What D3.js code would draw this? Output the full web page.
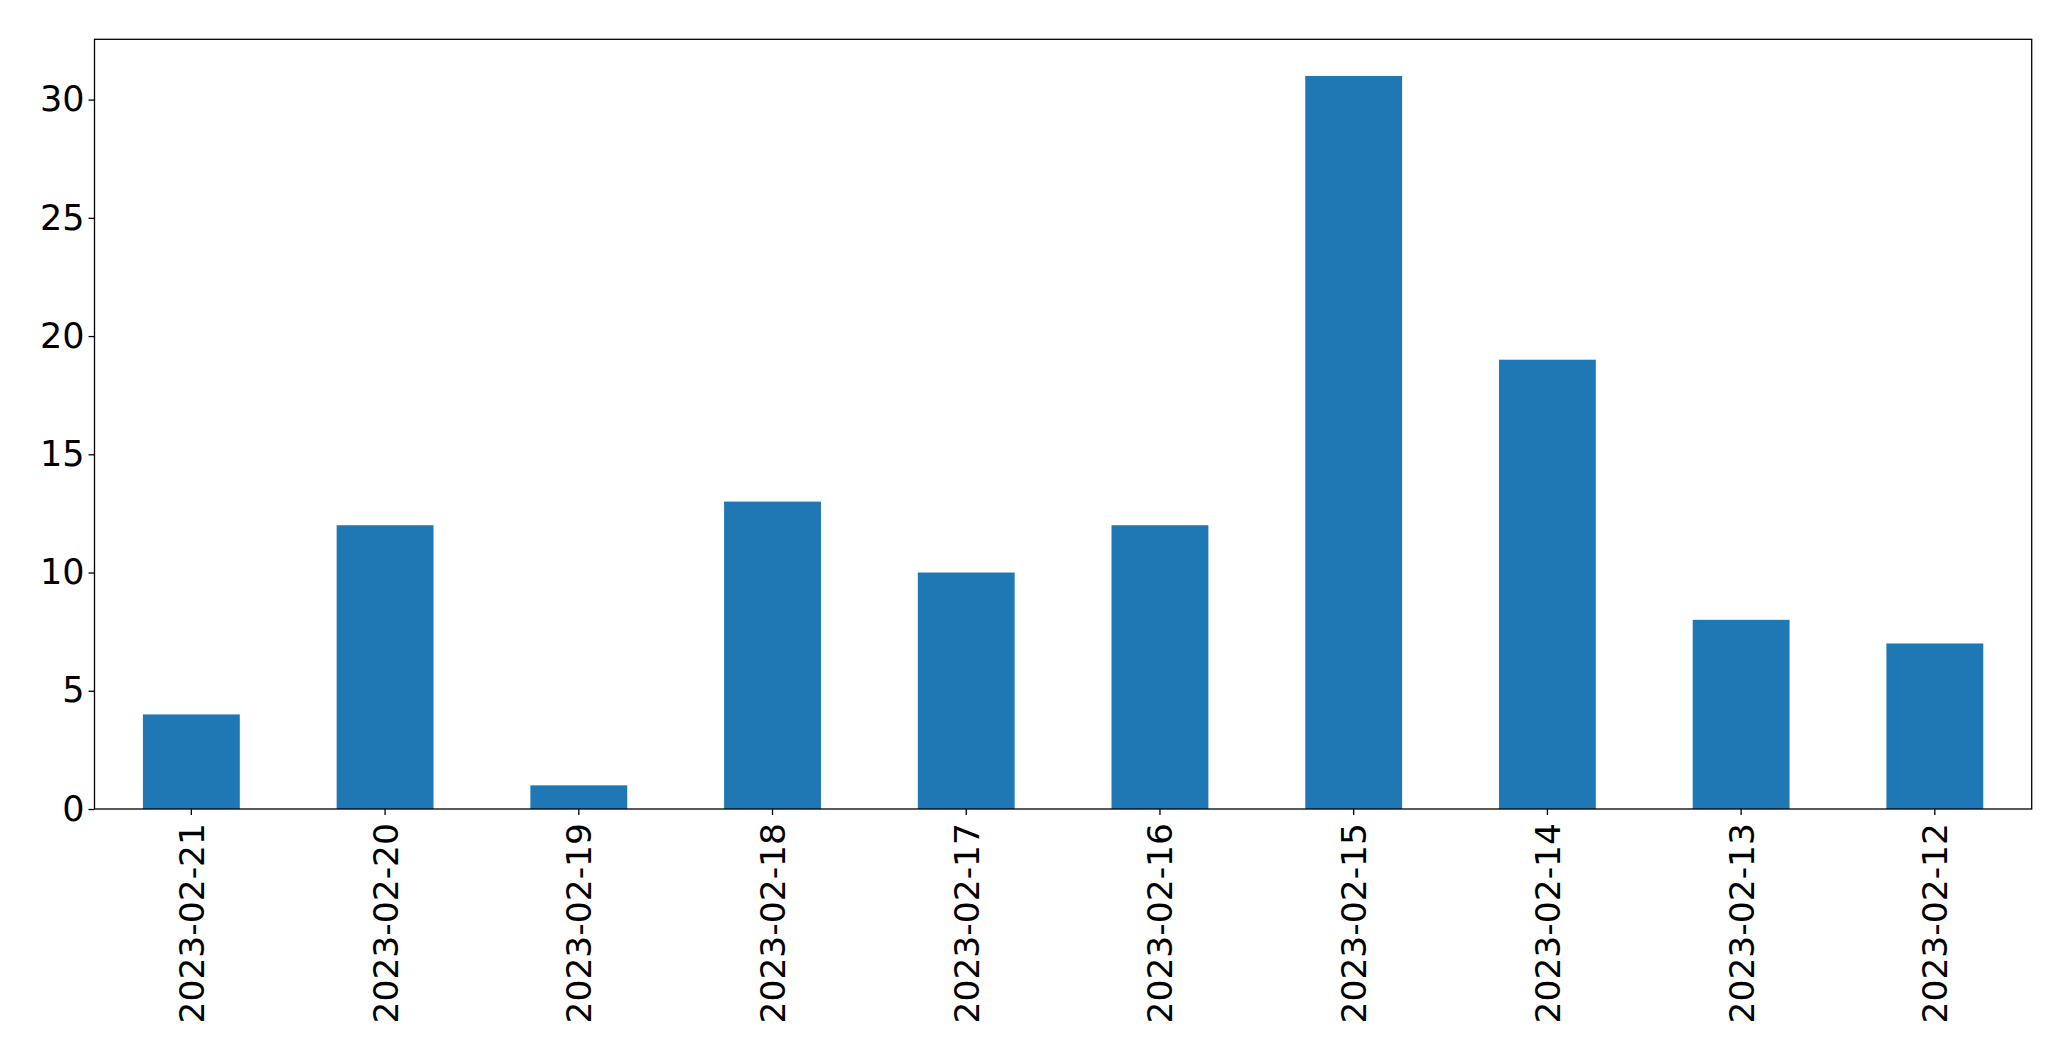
<!DOCTYPE html>
<html>
<head>
<meta charset="utf-8">
<script src="https://cdn.jsdelivr.net/npm/d3@7"></script>
<style>
  html, body { margin: 0; padding: 0; background: #ffffff; }
  svg { display: block; }
  text { font-family: "DejaVu Sans", sans-serif; fill: #000; }
</style>
</head>
<body>
<svg id="chart" width="2071" height="1061"></svg>
<script>
const categories = ["2023-02-21", "2023-02-20", "2023-02-19", "2023-02-18", "2023-02-17",
                    "2023-02-16", "2023-02-15", "2023-02-14", "2023-02-13", "2023-02-12"];
const values = [4, 12, 1, 13, 10, 12, 31, 19, 8, 7];
const yTicks = [0, 5, 10, 15, 20, 25, 30];

const W = 2071, H = 1061;
const margin = { left: 94.5, right: W - 2031.7, top: 39.3, bottom: H - 809 };
const iw = W - margin.left - margin.right;
const ih = H - margin.top - margin.bottom;

const svg = d3.select("#chart");
const g = svg.append("g").attr("transform", `translate(${margin.left},${margin.top})`);

const x = d3.scaleBand().domain(categories).range([0, iw]).paddingInner(0.5).paddingOuter(0.25);
const ymax = d3.max(values) * 1.05;
const y = d3.scaleLinear().domain([0, ymax]).range([ih, 0]);

g.selectAll("rect.bar")
  .data(values)
  .join("rect")
  .attr("class", "bar")
  .attr("x", (d, i) => x(categories[i]))
  .attr("width", x.bandwidth())
  .attr("y", d => y(d))
  .attr("height", d => ih - y(d))
  .attr("fill", "#1f77b4");

const yAxis = g.append("g")
  .call(d3.axisLeft(y).tickValues(yTicks).tickFormat(d3.format("d")).tickSize(6).tickPadding(4));
yAxis.select(".domain").remove();
yAxis.selectAll("line").attr("stroke", "#000").attr("stroke-width", 1.3);
yAxis.selectAll("text").style("font-size", "35px").attr("font-family", "DejaVu Sans, sans-serif");

const xAxis = g.append("g").attr("transform", `translate(0,${ih})`)
  .call(d3.axisBottom(x).tickSize(6).tickPadding(4));
xAxis.select(".domain").remove();
xAxis.selectAll("line").attr("stroke", "#000").attr("stroke-width", 1.3);
xAxis.selectAll("text")
  .style("font-size", "34.5px")
  .attr("font-family", "DejaVu Sans, sans-serif")
  .attr("transform", "rotate(-90)")
  .attr("text-anchor", "end")
  .attr("x", -14)
  .attr("y", 0)
  .attr("dy", "0.36em");

g.append("rect")
  .attr("x", 0).attr("y", 0).attr("width", iw).attr("height", ih)
  .attr("fill", "none").attr("stroke", "#000").attr("stroke-width", 1.3);
</script>
</body>
</html>
